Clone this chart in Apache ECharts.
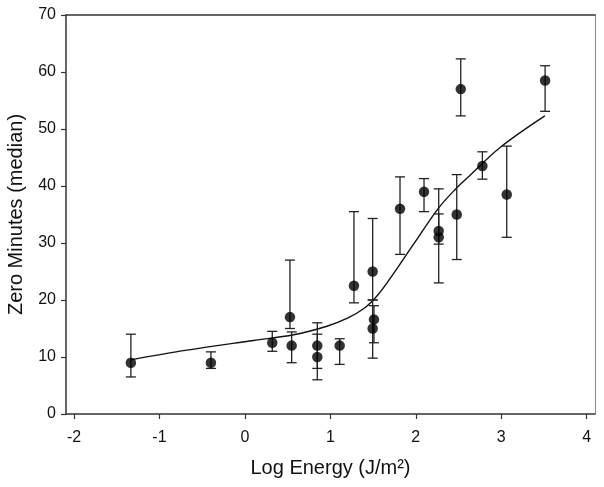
<!DOCTYPE html>
<html>
<head>
<meta charset="utf-8">
<script src="https://cdn.jsdelivr.net/npm/echarts@6/dist/echarts.min.js"></script>
<style>html,body{margin:0;padding:0;background:#fff;}#c{width:604px;height:487px;}</style>
</head>
<body>
<div id="c"></div>
<script>
// Data
var xVals = [-1.335, -0.398, 0.32, 0.527, 0.547, 0.847, 0.847, 1.109, 1.276, 1.495, 1.51, 1.495, 1.815, 2.096, 2.268, 2.268, 2.479, 2.526, 2.779, 3.064, 3.513];
var yVals = [9.0, 9.0, 12.5, 17.0, 12.0, 12.0, 10.0, 12.0, 22.5, 25.0, 16.6, 15.0, 36.0, 39.0, 32.1, 31.0, 35.0, 57.0, 43.5, 38.5, 58.5];
var lowVals = [6.5, 8.0, 11.0, 15.0, 9.0, 8.0, 6.0, 8.7, 19.5, 20.0, 12.5, 9.8, 28.0, 35.5, 29.8, 23.0, 27.1, 52.3, 41.2, 31.0, 53.1];
var highVals = [14.0, 10.9, 14.5, 27.0, 14.4, 16.0, 14.0, 13.2, 35.5, 34.3, 19.0, 20.0, 41.6, 41.3, 39.5, 35.1, 42.0, 62.3, 46.0, 47.0, 61.1];
var curveX = [-1.335, -0.68, 0.10, 0.57, 0.96, 1.20, 1.40, 1.55, 1.70, 1.97, 2.27, 2.48, 2.60, 2.99, 3.51];
var curveY = [9.5, 11.2, 12.9, 13.9, 15.4, 16.8, 18.6, 20.8, 23.8, 29.7, 36.2, 39.7, 41.4, 46.8, 52.3];
var xTicks = [-2, -1, 0, 1, 2, 3, 4];

var pts = xVals.map(function (x, i) { return [x, yVals[i]]; });
var errs = xVals.map(function (x, i) { return [x, lowVals[i], highVals[i]]; });
var curve = curveX.map(function (x, i) { return [x, curveY[i]]; });

var FONT = 'Liberation Sans, Arial, sans-serif';
var chart = echarts.init(document.getElementById('c'), null, {renderer: 'canvas'});
chart.setOption({
  animation: false,
  backgroundColor: '#fff',
  grid: {left: 66, right: 9, top: 15, bottom: 73, containLabel: false, outerBoundsMode: 'none'},
  xAxis: [{
    type: 'value', min: -2.094, max: 4.097,
    name: 'Log Energy (J/m²)', nameLocation: 'middle', nameGap: 44, nameMoveOverlap: false,
    nameTextStyle: {fontFamily: FONT, fontSize: 20, color: '#111'},
    axisLine: {onZero: false, lineStyle: {color: '#333', width: 1.5}},
    axisTick: {show: true, length: 5, customValues: xTicks, lineStyle: {color: '#333', width: 1.2}},
    axisLabel: {customValues: xTicks, fontFamily: FONT, fontSize: 16, color: '#111', margin: 16},
    splitLine: {show: false}
  }, {
    type: 'value', position: 'top', min: -2.094, max: 4.097,
    axisLine: {show: true, onZero: false, lineStyle: {color: '#333', width: 1.5}},
    axisTick: {show: false}, axisLabel: {show: false}, splitLine: {show: false}
  }],
  yAxis: [{
    type: 'value', min: 0, max: 70, interval: 10,
    name: 'Zero Minutes (median)', nameLocation: 'middle', nameGap: 40, nameMoveOverlap: false,
    nameTextStyle: {fontFamily: FONT, fontSize: 20, color: '#111'},
    axisLine: {show: true, onZero: false, lineStyle: {color: '#333', width: 1.5}},
    axisTick: {show: true, length: 5, lineStyle: {color: '#333', width: 1.2}},
    axisLabel: {fontFamily: FONT, fontSize: 16, color: '#111', margin: 10},
    splitLine: {show: false}
  }, {
    type: 'value', position: 'right', min: 0, max: 70,
    axisLine: {show: true, onZero: false, lineStyle: {color: '#888', width: 1}},
    axisTick: {show: false}, axisLabel: {show: false}, splitLine: {show: false}
  }],
  series: [{
    type: 'line', data: curve, smooth: 0.35, symbol: 'none',
    lineStyle: {color: '#111', width: 1.4}, z: 2
  }, {
    type: 'custom', data: errs, z: 3,
    renderItem: function (params, api) {
      var x = api.value(0);
      var lo = api.coord([x, api.value(1)]);
      var hi = api.coord([x, api.value(2)]);
      var hw = 5;
      var style = {stroke: '#222', lineWidth: 1.3};
      return {type: 'group', children: [
        {type: 'line', shape: {x1: lo[0], y1: lo[1], x2: hi[0], y2: hi[1]}, style: style},
        {type: 'line', shape: {x1: lo[0] - hw, y1: lo[1], x2: lo[0] + hw, y2: lo[1]}, style: style},
        {type: 'line', shape: {x1: hi[0] - hw, y1: hi[1], x2: hi[0] + hw, y2: hi[1]}, style: style}
      ]};
    }
  }, {
    type: 'scatter', data: pts, symbol: 'circle', symbolSize: 10.5,
    itemStyle: {color: '#000'}, z: 4
  }]
});
</script>
</body>
</html>
